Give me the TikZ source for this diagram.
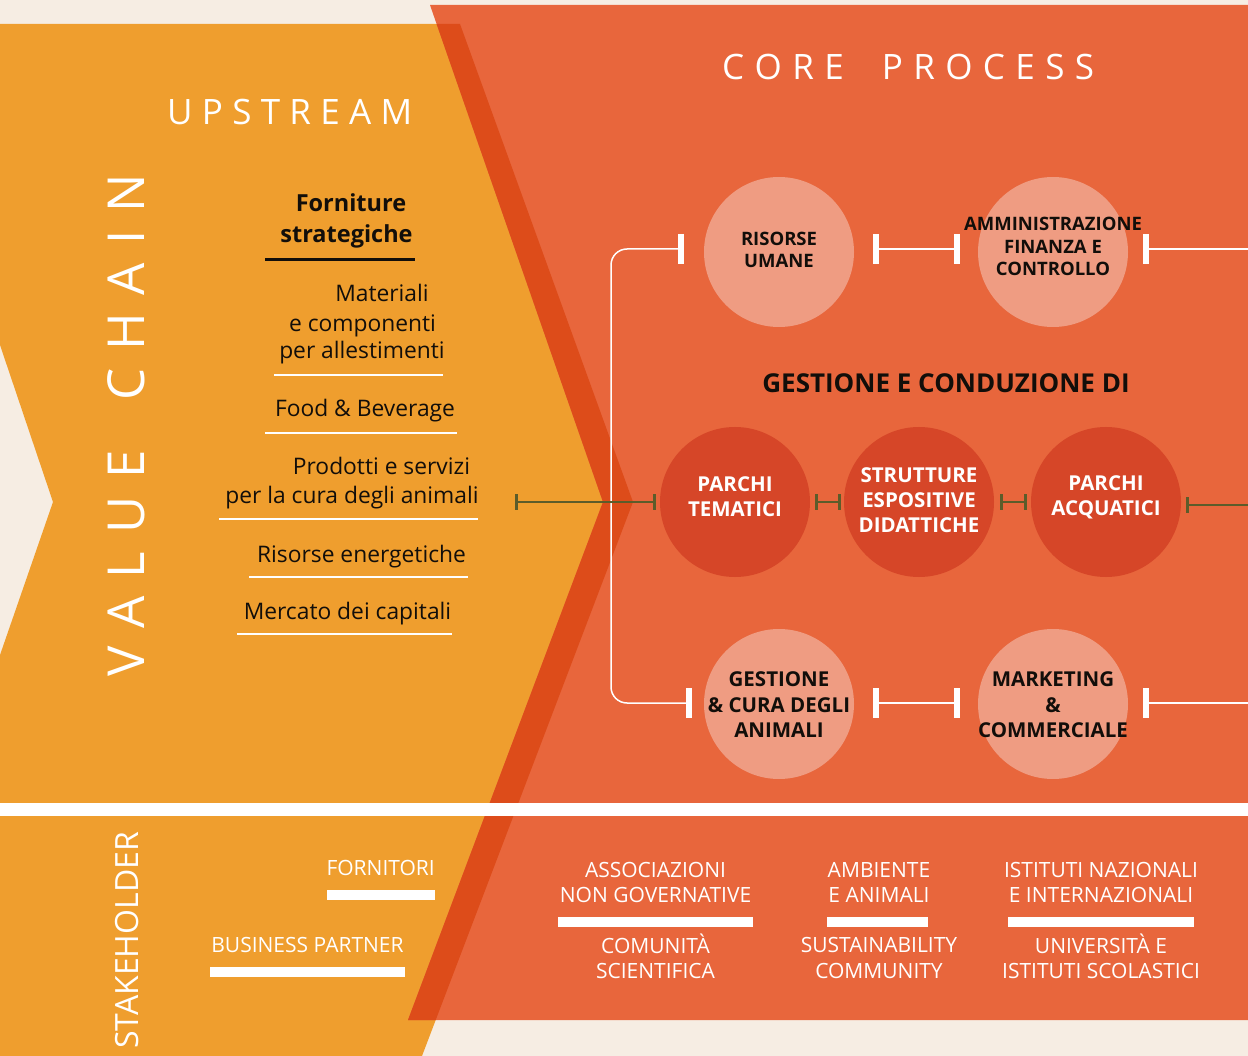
\documentclass[tikz,border=0pt]{standalone}
\usepackage{fontspec}
\setmainfont{Open Sans}
\usetikzlibrary{calc}
\definecolor{cream}{RGB}{246,237,227}
\definecolor{orangeA}{RGB}{239,158,46}
\definecolor{redA}{RGB}{232,102,60}
\definecolor{darkA}{RGB}{221,76,26}
\definecolor{lightC}{RGB}{239,156,130}
\definecolor{darkC}{RGB}{214,70,40}
\definecolor{olive}{RGB}{92,92,42}
\definecolor{ink}{RGB}{18,14,10}
\newcommand\fsz[2]{\fontsize{#1}{#2}\selectfont}
\newcommand\gA{\hspace{9.3pt}}
\newcommand\gC{\hspace{10.4pt}}
\newcommand\gB{\hspace{18pt}}
\begin{document}
\begin{tikzpicture}[x=1pt,y=-1pt,
  circ/.style={circle,minimum size=150pt,inner sep=0pt},
  lightcirc/.style={circ,fill=lightC},
  darkcirc/.style={circ,fill=darkC},
  ltxt/.style={align=center,text=ink,inner sep=0pt,font=\bfseries\fsz{18.5}{22.5}},
  dtxt/.style={align=center,text=white,inner sep=0pt,font=\bfseries\fsz{20.5}{25}},
  btxt/.style={align=center,text=ink,inner sep=0pt,font=\bfseries\fsz{20.5}{25.5}},
  listtxt/.style={anchor=base,text=ink,font=\fsz{22.8}{28},inner sep=0pt},
  listbold/.style={listtxt,font=\bfseries\fsz{23.5}{28}},
  thinrule/.style={draw=white,line width=1.3pt},
  blackrule/.style={draw=ink,line width=3pt},
  wline/.style={draw=white,line width=1.5pt},
  wtick/.style={draw=white,line width=6pt},
  oline/.style={draw=olive,line width=2pt},
  otick/.style={draw=olive,line width=3pt},
  stk/.style={text=white,font=\fsz{21}{25.5},align=center,inner sep=0pt},
  head/.style={text=white,inner sep=0pt},
]
\useasboundingbox (0,0) rectangle (1248,1056);
% background areas
\fill[cream] (0,0) rectangle (1248,1056);
\fill[orangeA] (0,24) -- (460,24) -- (633,502) -- (422,1056) -- (0,1056) -- (0,655) -- (53,502) -- (0,345) -- cycle;
\fill[redA] (430,5) -- (1248,5) -- (1248,1020) -- (408,1020) -- (603,502) -- cycle;
\begin{scope}
  \clip (0,24) -- (460,24) -- (633,502) -- (422,1056) -- (0,1056) -- cycle;
  \fill[darkA] (430,5) -- (1248,5) -- (1248,1020) -- (408,1020) -- (603,502) -- cycle;
\end{scope}
\fill[white] (0,803) rectangle (1248,816);

% headings
\node[head,anchor=base west,font=\fsz{35}{40}] (up) at (167,125) {U\gA P\gA S\gA T\gA R\gA E\gA A\gA M};
\node[head,anchor=base west,font=\fsz{35}{40}] (cp) at (722,80) {C\gC O\gC R\gC E\hspace{38pt}P\gC R\gC O\gC C\gC E\gC S\gC S};
\node[head,anchor=base west,rotate=90,font=\fsz{51}{56}] (vc) at (144,677) {V\gB A\gB L\gB U\gB E\gB\ \gB C\gB H\gB A\gB I\gB N};
\node[head,anchor=base west,rotate=90,font=\fsz{32}{36}] (sh) at (138,1049) {STAKEHOLDER};

% upstream list
\node[listbold] (l1) at (351,212) {Forniture};
\node[listbold] (l2) at (346.5,243) {strategiche};
\draw[blackrule] (265,260) -- (415,260);
\node[listtxt] (l3) at (382,302) {Materiali};
\node[listtxt] (l4) at (362.5,332) {e componenti};
\node[listtxt] (l5) at (362,359) {per allestimenti};
\draw[thinrule] (274,375) -- (443,375);
\node[listtxt] (l6) at (365,417) {Food \& Beverage};
\draw[thinrule] (265,433) -- (457,433);
\node[listtxt] (l7) at (381.5,475) {Prodotti e servizi};
\node[listtxt] (l8) at (352,503) {per la cura degli animali};
\draw[thinrule] (219,519) -- (478,519);
\node[listtxt] (l9) at (361.5,562) {Risorse energetiche};
\draw[thinrule] (249,577) -- (468,577);
\node[listtxt] (l10) at (347.5,619) {Mercato dei capitali};
\draw[thinrule] (237,634) -- (452,634);

% circles
\node[lightcirc,label={[ltxt,yshift=2pt]center:RISORSE\\UMANE}] (ru) at (779,252) {};
\node[lightcirc,label={[ltxt,yshift=5.5pt]center:AMMINISTRAZIONE\\FINANZA E\\CONTROLLO}] (afc) at (1053,252) {};
\node[darkcirc,label={[dtxt,yshift=5pt]center:PARCHI\\TEMATICI}] (pt) at (735,502) {};
\node[darkcirc,label={[dtxt,yshift=2pt]center:STRUTTURE\\ESPOSITIVE\\DIDATTICHE}] (sed) at (919,502) {};
\node[darkcirc,label={[dtxt,yshift=5pt]center:PARCHI\\ACQUATICI}] (pa) at (1106,502) {};
\node[lightcirc,label={[btxt,yshift=-1pt]center:GESTIONE\\\& CURA DEGLI\\ANIMALI}] (gca) at (779,704) {};
\node[lightcirc,label={[btxt,yshift=-1pt]center:MARKETING\\\&\\COMMERCIALE}] (mc) at (1053,704) {};
\node[text=ink,font=\bfseries\fsz{26}{30},anchor=base,inner sep=0pt] (gcd) at (946,393) {GESTIONE E CONDUZIONE DI};

% white connectors
\coordinate (a1) at (681,249);
\coordinate (a2) at (689,703);
\draw[wline,rounded corners=16] (a1) -- (611,249) -- (611,703) -- (a2);
\draw[wtick] (a1) ++(0,-15) -- ++(0,30);
\draw[wtick] (a2) ++(0,-15) -- ++(0,30);
\coordinate (b1) at (876,249); \coordinate (b2) at (957,249);
\draw[wline] (b1) -- (b2);
\draw[wtick] (b1) ++(0,-15) -- ++(0,30);
\draw[wtick] (b2) ++(0,-15) -- ++(0,30);
\coordinate (c1) at (1146,249); \coordinate (c2) at (1248,249);
\draw[wline] (c1) -- (c2);
\draw[wtick] (c1) ++(0,-15) -- ++(0,30);
\coordinate (d1) at (876,703); \coordinate (d2) at (957,703);
\draw[wline] (d1) -- (d2);
\draw[wtick] (d1) ++(0,-15) -- ++(0,30);
\draw[wtick] (d2) ++(0,-15) -- ++(0,30);
\coordinate (e1) at (1146,703); \coordinate (e2) at (1248,703);
\draw[wline] (e1) -- (e2);
\draw[wtick] (e1) ++(0,-15) -- ++(0,30);

% olive connectors
\coordinate (o1) at (516,502); \coordinate (o2) at (654,502);
\draw[oline] (o1) -- (o2);
\draw[otick] (o1) ++(0,-8) -- ++(0,16);
\draw[otick] (o2) ++(0,-8) -- ++(0,16);
\coordinate (o3) at (816,502); \coordinate (o4) at (839,502);
\draw[oline] (o3) -- (o4);
\draw[otick] (o3) ++(0,-8) -- ++(0,16);
\draw[otick] (o4) ++(0,-8) -- ++(0,16);
\coordinate (o5) at (1001,502); \coordinate (o6) at (1025,502);
\draw[oline] (o5) -- (o6);
\draw[otick] (o5) ++(0,-8) -- ++(0,16);
\draw[otick] (o6) ++(0,-8) -- ++(0,16);
\coordinate (o7) at (1187,505); \coordinate (o8) at (1248,505);
\draw[oline] (o7) -- (o8);
\draw[otick] (o7) ++(0,-8) -- ++(0,16);

% stakeholders
\node[stk,anchor=base east] (s1) at (435,875) {FORNITORI};
\fill[white] (327,890) rectangle (435,900);
\node[stk,anchor=base] (s2) at (307.5,952) {BUSINESS PARTNER};
\fill[white] (210,967) rectangle (405,977);
\node[stk] (s3) at (655.5,882.5) {ASSOCIAZIONI\\NON GOVERNATIVE};
\fill[white] (558,917) rectangle (753,927);
\node[stk] (s4) at (655.5,956.5) {COMUNITÀ\\SCIENTIFICA};
\node[stk] (s5) at (879,882.5) {AMBIENTE\\E ANIMALI};
\fill[white] (827,917) rectangle (928,927);
\node[stk] (s6) at (879,958) {SUSTAINABILITY\\COMMUNITY};
\node[stk] (s7) at (1101,882.5) {ISTITUTI NAZIONALI\\E INTERNAZIONALI};
\fill[white] (1008,917) rectangle (1194,927);
\node[stk] (s8) at (1101,956.5) {UNIVERSITÀ E\\ISTITUTI SCOLASTICI};
\end{tikzpicture}
\end{document}
